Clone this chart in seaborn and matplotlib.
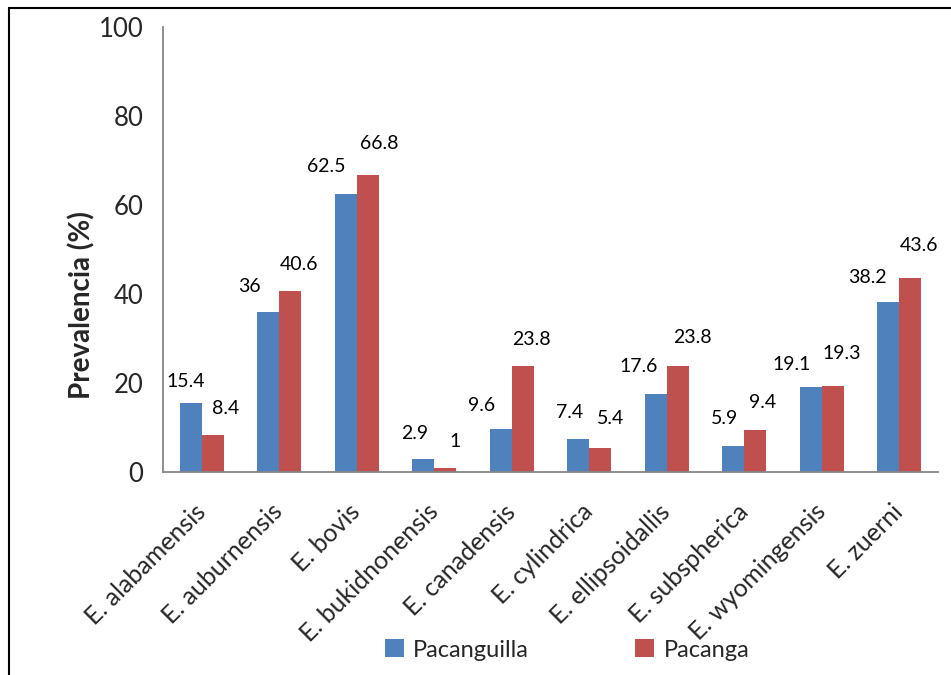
import numpy as np
import pandas as pd
import matplotlib
matplotlib.use("Agg")
import matplotlib.pyplot as plt
from matplotlib.patches import Rectangle, Patch
import seaborn as sns

# Eimeria species and prevalence (%) in each locality
species = ["E. alabamensis", "E. auburnensis", "E. bovis", "E. bukidnonensis",
           "E. canadensis", "E. cylindrica", "E. ellipsoidallis", "E. subspherica",
           "E. wyomingensis", "E. zuerni"]
pacanguilla = [15.4, 36, 62.5, 2.9, 9.6, 7.4, 17.6, 5.9, 19.1, 38.2]
pacanga = [8.4, 40.6, 66.8, 1, 23.8, 5.4, 23.8, 9.4, 19.3, 43.6]
sites = ["Pacanguilla", "Pacanga"]
yticks = [0, 20, 40, 60, 80, 100]

# value-label nudges (pixels) for each series
label_dx = [[-5, -19, -19, -9, -19, -9, -17, -9, -19, -21],
            [13, 9, 11, 10, 9, 10, 15, 7, 9, 9]]
label_dy = [[22, 25, 27, 26, 24, 27, 27, 27, 23, 25],
            [26, 27, 31, 26, 27, 29, 29, 28, 33, 32]]

colors = ["#4F81BD", "#C0504D"]
axis_grey = "#868686"

df = pd.DataFrame({
    "species": species * 2,
    "site": [sites[0]] * len(species) + [sites[1]] * len(species),
    "value": pacanguilla + pacanga,
})

sns.set_style("white")
plt.rcParams["font.family"] = ["Lato", "DejaVu Sans"]

fig = plt.figure(figsize=(9.51, 6.75), dpi=100)
ax = fig.add_axes([163 / 951, 1 - 472 / 675, 775 / 951, 445 / 675])

sns.barplot(data=df, x="species", y="value", hue="site", hue_order=sites,
            order=species, palette=colors, saturation=1, width=0.568,
            dodge=True, legend=False, ax=ax, linewidth=0)

# value labels above the bars
for s, cont in enumerate(ax.containers):
    for i, bar in enumerate(cont):
        h = bar.get_height()
        xc = bar.get_x() + bar.get_width() / 2
        ax.annotate(f"{h:g}", (xc, h), xytext=(label_dx[s][i], label_dy[s][i]),
                    textcoords="offset pixels", ha="center", va="center",
                    fontsize=14, color="black")

ax.set_xlim(-0.5, len(species) - 0.5)
ax.set_ylim(0, 100)
ax.set_yticks(yticks)
ax.set_yticklabels([str(t) for t in yticks], fontsize=18.5)
ax.set_xticks(range(len(species)))
ax.set_xticklabels(species, rotation=45, ha="right", va="center",
                   rotation_mode="anchor", fontsize=18)
ax.set_xticks(np.arange(-0.5, len(species)), minor=True)
ax.tick_params(axis="x", which="major", length=0, pad=26)
ax.tick_params(axis="x", which="minor", length=6, width=1.3, color=axis_grey,
               direction="out")
ax.tick_params(axis="y", length=6, width=1.3, color=axis_grey, direction="out",
               pad=8)

ax.set_xlabel("")
ax.set_ylabel("Prevalencia (%)", fontsize=20, fontweight="bold",
              ha="center", va="center")
ax.yaxis.set_label_coords((82 - 163) / 775, (472 - 305) / 445)

for side in ["top", "right"]:
    ax.spines[side].set_visible(False)
for side in ["left", "bottom"]:
    ax.spines[side].set_color(axis_grey)
    ax.spines[side].set_linewidth(1.3)

# legend below the plot
handles = [Patch(facecolor=c, edgecolor="none") for c in colors]
fig.legend(handles, sites, loc="center", bbox_to_anchor=(567 / 951, 1 - 650 / 675),
           ncol=2, frameon=False, fontsize=17, handlelength=0.8, handleheight=0.8,
           handletextpad=0.4, columnspacing=4.5)

# outer chart border
fig.patches.append(Rectangle((9 / 951, -0.5), 2, 1.5 - 8 / 675,
                             transform=fig.transFigure, fill=False,
                             edgecolor="black", linewidth=1.5))

fig.savefig("out.png", dpi=100)
